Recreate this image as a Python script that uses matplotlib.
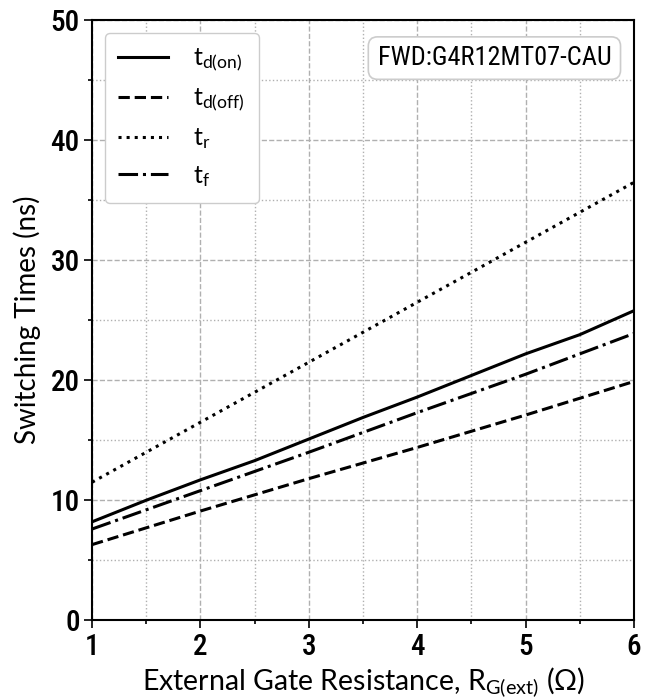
import numpy as np
import matplotlib
matplotlib.use("Agg")
import matplotlib.pyplot as plt
from matplotlib.ticker import MultipleLocator
from matplotlib.font_manager import FontProperties

plt.rcParams["font.family"] = ["Lato", "DejaVu Sans"]
plt.rcParams["mathtext.fontset"] = "custom"
plt.rcParams["mathtext.rm"] = "Lato"
plt.rcParams["mathtext.it"] = "Lato"

# external gate resistance (ohm)
rg = [1, 2, 3, 4, 5, 6]
rg_on = [1, 1.5, 2, 2.5, 3, 3.5, 4, 4.5, 5, 5.5, 6]

# switching times (ns)
td_on = [8.2, 10.0, 11.7, 13.3, 15.1, 16.9, 18.6, 20.4, 22.2, 23.8, 25.8]
td_off = [6.3, 9.1, 11.8, 14.4, 17.1, 19.9]
t_r = [11.5, 16.5, 21.5, 26.5, 31.5, 36.5]
t_f = [7.6, 10.8, 14.0, 17.3, 20.5, 23.9]

fig = plt.figure(figsize=(6.53, 7.0), dpi=100)
ax = fig.add_axes([0.141, 0.114, 0.830, 0.857])

lw = 2.2
ax.plot(rg_on, td_on, "k-", lw=lw, label=r"$\mathregular{t_{d(on)}}$")
ax.plot(rg, td_off, "k--", lw=lw, label=r"$\mathregular{t_{d(off)}}$")
ax.plot(rg, t_r, "k:", lw=lw, label=r"$\mathregular{t_r}$")
ax.plot(rg, t_f, "k-.", lw=lw, label=r"$\mathregular{t_f}$")

ax.set_xlim(1, 6)
ax.set_ylim(0, 50)
ax.xaxis.set_major_locator(MultipleLocator(1))
ax.xaxis.set_minor_locator(MultipleLocator(0.5))
ax.yaxis.set_major_locator(MultipleLocator(10))
ax.yaxis.set_minor_locator(MultipleLocator(5))
ax.grid(which="major", ls="--", color="#b0b0b0", lw=1.0)
ax.grid(which="minor", ls=":", color="#b0b0b0", lw=1.0)

for s in ax.spines.values():
    s.set_linewidth(1.5)
ax.tick_params(which="both", direction="out", width=1.2)
ax.tick_params(which="major", length=6, pad=3)
ax.tick_params(which="minor", length=3)

tickfont = FontProperties(family=["Roboto Condensed", "DejaVu Sans"], weight="medium", size=21)
for lab in ax.get_xticklabels() + ax.get_yticklabels():
    lab.set_fontproperties(tickfont)

ax.set_xlabel(r"External Gate Resistance, R$\mathregular{_{G(ext)}}$ ($\Omega$)", fontsize=20.5, labelpad=3)
ax.set_ylabel("Switching Times (ns)", fontsize=20, labelpad=7)

leg = ax.legend(loc="upper left", fontsize=18, handlelength=2.0, framealpha=1,
                edgecolor="#cccccc", borderpad=0.55, labelspacing=0.5, handletextpad=1.0)

ax.text(0.958, 0.937, "FWD:G4R12MT07-CAU", transform=ax.transAxes, ha="right", va="center",
        fontsize=19, family=["Roboto Condensed", "DejaVu Sans"],
        bbox=dict(boxstyle="round,pad=0.35", fc="white", ec="#cccccc", lw=1.2))

fig.savefig("out.png", dpi=100)
